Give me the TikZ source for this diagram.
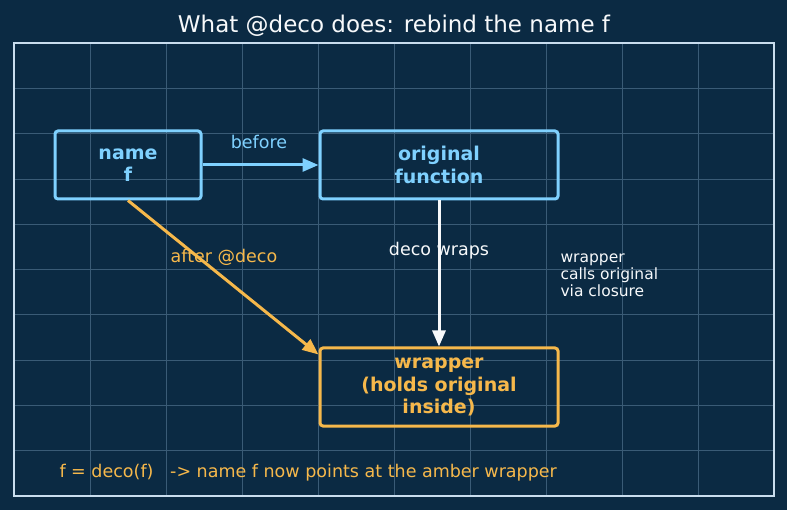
\documentclass[tikz,border=0pt]{standalone}
\usepackage{fontspec}
\setmainfont{DejaVu Sans}
\usetikzlibrary{arrows.meta,calc}
\definecolor{navy}{HTML}{0B2A43}
\definecolor{gridc}{HTML}{3A5B76}
\definecolor{framec}{HTML}{C9DDEE}
\definecolor{sky}{HTML}{7FD1FF}
\definecolor{amber}{HTML}{F6B84B}
\definecolor{chalk}{HTML}{F7F9FB}
\begin{document}
\begin{tikzpicture}[x=1pt,y=-1pt,
	box/.style={draw, line width=3pt, rounded corners=3pt, align=center,
		font=\fontsize{19}{22.5}\selectfont\bfseries},
	link/.style={line width=3pt, -{Triangle[length=16pt,width=13pt]}},
	lbl/.style={font=\fontsize{17.5}{20}\selectfont}]
	\fill[navy] (0,0) rectangle (787,510);
	\foreach \x in {1,...,9}
		\draw[gridc, line width=0.6pt] (14+76*\x,43)--(14+76*\x,496);
	\foreach \y in {1,...,9}
		\draw[gridc, line width=0.6pt] (14,43+45.3*\y)--(774,43+45.3*\y);
	\draw[framec, line width=1.8pt] (14,43) rectangle (774,496);
	\node[chalk, font=\fontsize{23}{26}\selectfont] (title) at (394,26) {What @deco does: rebind the name f};
	\node[box, sky, minimum width=146pt, minimum height=68pt] (namef) at (128,165) {name\\f};
	\node[box, sky, minimum width=238pt, minimum height=68pt] (orig) at (439,165) {original\\function};
	\node[box, amber, minimum width=238pt, minimum height=78pt] (wrap) at (439,387) {wrapper\\(holds original\\inside)};
	\draw[link, sky] (namef) -- (orig);
	\draw[link, chalk] (orig) -- (wrap);
	\draw[link, amber] (namef.south) -- ($(wrap.north west)+(0,8)$);
	\node[lbl, sky] (lbefore) at (259,142) {before};
	\node[lbl, chalk] (lwraps) at (439,251) {deco wraps};
	\node[lbl, amber] (lafter) at (224,257) {after @deco};
	\node[chalk, anchor=west, align=left, font=\fontsize{15.5}{17}\selectfont] (closure) at (557,275) {wrapper\\calls original\\via closure};
	\node[amber, anchor=west, font=\fontsize{17.5}{20}\selectfont] (note) at (56,473) {f = deco(f) \ \ -> name f now points at the amber wrapper};
\end{tikzpicture}
\end{document}
